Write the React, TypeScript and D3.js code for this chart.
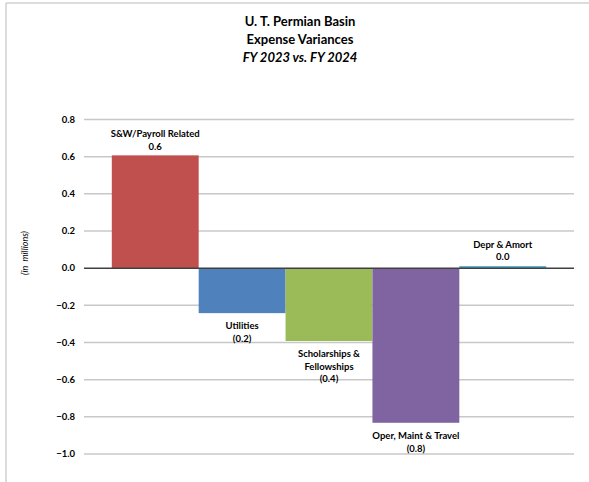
import React from "react";
import * as d3 from "d3";

const categories = ["S&W/Payroll Related", "Utilities", "Scholarships & Fellowships", "Oper, Maint & Travel", "Depr & Amort"];
const labelLines = [["S&W/Payroll Related"], ["Utilities"], ["Scholarships &", "Fellowships"], ["Oper, Maint & Travel"], ["Depr & Amort"]];
const values = [0.607, -0.242, -0.392, -0.832, 0.011];
const valueLabels = ["0.6", "(0.2)", "(0.4)", "(0.8)", "0.0"];
const colors = ["#C0504D", "#4F81BD", "#9BBB59", "#8064A2", "#4BACC6"];
const yTicks = [0.8, 0.6, 0.4, 0.2, 0.0, -0.2, -0.4, -0.6, -0.8, -1.0];
const titleLines = ["U. T. Permian Basin", "Expense Variances", "FY 2023 vs. FY 2024"];

const W = 589;
const H = 482;
const FONT = "Lato, 'Open Sans', sans-serif";

export default function App() {
  const x = d3.scaleBand<string>().domain(categories).range([84, 574]).paddingInner(0).paddingOuter(0.32);
  const y = d3.scaleLinear().domain([-1.0, 0.8]).range([454, 119.5]);
  const lh = 12.5;

  return (
    <svg width={W} height={H} style={{ position: "absolute", left: 0, top: 0 }}>
      <rect x={0} y={0} width={W} height={H} fill="#fff" />
      <line x1={6} y1={3} x2={W} y2={3} stroke="#d0d0d0" strokeWidth={1.5} />
      <line x1={6} y1={3} x2={6} y2={H} stroke="#d0d0d0" strokeWidth={1.5} />
      {titleLines.map((t, i) => (
        <text key={t} x={300} y={21 + i * 18} dy="0.35em" textAnchor="middle" fontFamily={FONT}
          fontWeight="bold" fontStyle={i === 2 ? "italic" : "normal"} fontSize={13} fill="#000">{t}</text>
      ))}
      {yTicks.map((t) => (
        <g key={t}>
          {t !== 0 && <line x1={84} x2={574} y1={y(t)} y2={y(t)} stroke="#c8c8c8" strokeWidth={1.5} />}
          <text x={75} y={y(t)} dy="0.35em" textAnchor="end" fontFamily={FONT} fontWeight="bold"
            fontSize={9.5} fill="#000">{d3.format(".1f")(t)}</text>
        </g>
      ))}
      <text transform="translate(25,253) rotate(-90)" textAnchor="middle" dy="0.35em" fontFamily={FONT}
        fontStyle="italic" fontSize={9} fill="#000" style={{ whiteSpace: "pre" }}>{"(in  millions)"}</text>
      {categories.map((c, i) => {
        const v = values[i];
        const x0 = x(c)!;
        const bw = x.bandwidth();
        const top = y(Math.max(0, v));
        const bot = y(Math.min(0, v));
        const lines = [...labelLines[i], valueLabels[i]];
        const cx = x0 + bw / 2;
        const startY = v >= 0 ? top - 8 - (lines.length - 1) * lh - 1 : bot + 13;
        return (
          <g key={c}>
            <rect x={x0} y={top} width={bw} height={Math.max(1.5, bot - top)} fill={colors[i]} />
            {lines.map((l, j) => (
              <text key={j} x={cx} y={startY + j * lh} dy="0.35em" textAnchor="middle" fontFamily={FONT}
                fontWeight="bold" fontSize={9.5} fill="#000">{l}</text>
            ))}
          </g>
        );
      })}
      <line x1={84} x2={574} y1={y(0)} y2={y(0)} stroke="#404040" strokeWidth={1.5} />
    </svg>
  );
}
